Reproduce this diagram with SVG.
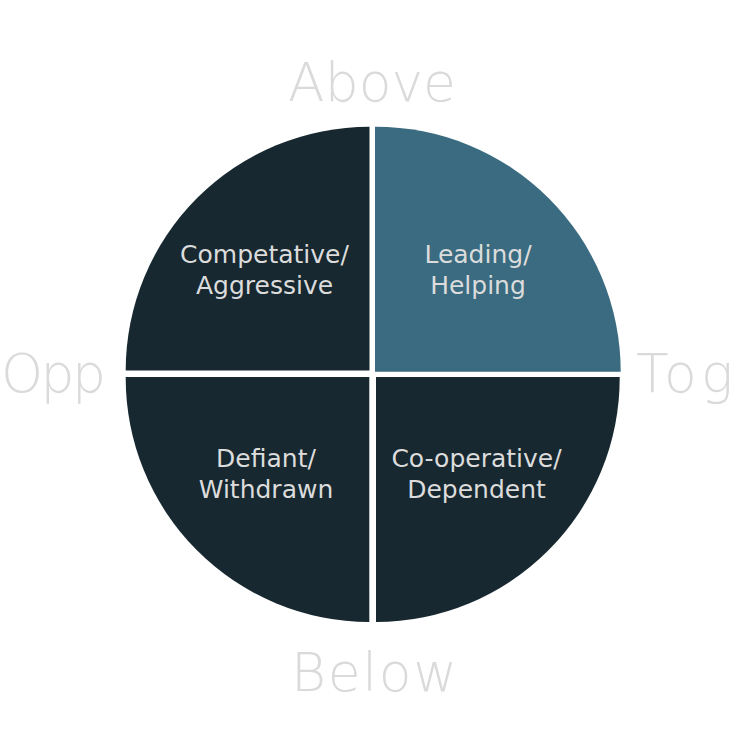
<svg xmlns="http://www.w3.org/2000/svg" width="756" height="744" viewBox="0 0 756 744">
<style>
.q{fill:#172830}
.qa{fill:#3a6b80}
.lbl{font-family:"DejaVu Sans","Liberation Sans",sans-serif;font-size:25px;fill:#dcdcdc;text-anchor:middle}
.ax{font-family:"DejaVu Sans","Liberation Sans",sans-serif;font-size:53.5px;font-weight:200;fill:#dadada}
</style>
<rect width="756" height="744" fill="#ffffff"/>
<g id="axis-labels">
<text class="ax" x="288" y="100.7" textLength="168">Above</text>
<text class="ax" x="291" y="691" textLength="166">Below</text>
<text class="ax" x="1" y="392" textLength="105">Opp</text>
<text class="ax" x="636" y="392" textLength="97">Tog</text>
</g>
<g id="q-competative">
<path class="q" d="M369.5,370.5 L125.7,370.5 A243.8,243.8 0 0 1 369.5,126.7 Z"/>
<text class="lbl" x="264.5" y="262.5">Competative/</text>
<text class="lbl" x="264.5" y="294">Aggressive</text>
</g>
<g id="q-leading">
<path class="qa" d="M375,371.7 L375,126.7 A245,245 0 0 1 620.7,371.7 Z"/>
<text class="lbl" x="478" y="262.5">Leading/</text>
<text class="lbl" x="478" y="294">Helping</text>
</g>
<g id="q-defiant">
<path class="q" d="M369.3,377 L369.3,622 A244,244 0 0 1 125.7,377 Z"/>
<text class="lbl" x="266" y="467">Defiant/</text>
<text class="lbl" x="266" y="498">Withdrawn</text>
</g>
<g id="q-cooperative">
<path class="q" d="M376,377 L619.7,377 A244,244 0 0 1 376,622 Z"/>
<text class="lbl" x="476.5" y="467">Co-operative/</text>
<text class="lbl" x="476.5" y="498">Dependent</text>
</g>
</svg>
